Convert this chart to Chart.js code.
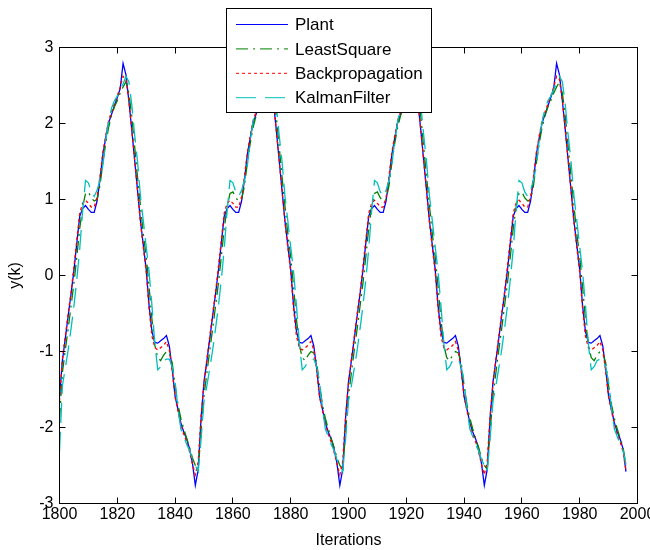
<!DOCTYPE html>
<html>
<head>
<meta charset="utf-8">
<title>Plant vs estimators</title>
<script src="https://cdn.jsdelivr.net/npm/chart.js@4.4.0/dist/chart.umd.min.js"></script>
<style>
    html, body { margin: 0; padding: 0; background: #fff; }
    canvas { display: block; }
</style>
</head>
<body>
<canvas id="plot" width="650" height="550"></canvas>
<script>
// x grid: one sample per iteration, 1800 .. 1996
const firstIteration = 1800;
const lastIteration = 1996;
const iterations = Array.from({ length: lastIteration - firstIteration + 1 }, (_, i) => firstIteration + i);

const xTicks = [1800, 1820, 1840, 1860, 1880, 1900, 1920, 1940, 1960, 1980, 2000];
const yTicks = [-3, -2, -1, 0, 1, 2, 3];

const seriesNames = ['Plant', 'LeastSquare', 'Backpropagation', 'KalmanFilter'];

// values, one row per period (1800-1847, 1848-1897, 1898-1947, 1948-1996)
const plant = [
    -1.60,-1.12,-0.83,-0.53,-0.24,0.07,0.43,0.78,0.88,0.92,0.87,0.83,0.83,0.98,1.26,1.59,1.81,2.01,2.12,2.23,2.34,2.46,2.79,2.64,2.30,1.92,1.52,1.12,0.72,0.40,0.08,-0.40,-0.74,-0.88,-0.89,-0.86,-0.83,-0.79,-0.93,-1.23,-1.59,-1.76,-1.94,-2.06,-2.15,-2.28,-2.47,-2.76,
    -2.55,-1.87,-1.40,-1.12,-0.83,-0.53,-0.24,0.07,0.43,0.78,0.88,0.92,0.87,0.83,0.83,0.98,1.26,1.59,1.81,2.01,2.12,2.23,2.34,2.46,2.79,2.64,2.30,1.92,1.52,1.12,0.72,0.40,0.08,-0.40,-0.74,-0.88,-0.89,-0.86,-0.83,-0.79,-0.93,-1.23,-1.59,-1.76,-1.94,-2.06,-2.15,-2.28,-2.47,-2.76,
    -2.55,-1.87,-1.40,-1.12,-0.83,-0.53,-0.24,0.07,0.43,0.78,0.88,0.92,0.87,0.83,0.83,0.98,1.26,1.59,1.81,2.01,2.12,2.23,2.34,2.46,2.79,2.64,2.30,1.92,1.52,1.12,0.72,0.40,0.08,-0.40,-0.74,-0.88,-0.89,-0.86,-0.83,-0.79,-0.93,-1.23,-1.59,-1.76,-1.94,-2.06,-2.15,-2.28,-2.47,-2.76,
    -2.55,-1.87,-1.40,-1.12,-0.83,-0.53,-0.24,0.07,0.43,0.78,0.88,0.92,0.87,0.83,0.83,0.98,1.26,1.59,1.81,2.01,2.12,2.23,2.34,2.46,2.79,2.64,2.30,1.92,1.52,1.12,0.72,0.40,0.08,-0.40,-0.74,-0.88,-0.89,-0.86,-0.83,-0.79,-0.93,-1.23,-1.59,-1.76,-1.94,-2.06,-2.15,-2.28,-2.58
];

const leastSquare = [
    -1.90,-1.28,-0.98,-0.70,-0.40,-0.10,0.25,0.62,0.90,1.08,1.10,1.02,0.98,1.00,1.18,1.48,1.74,1.95,2.10,2.22,2.30,2.40,2.48,2.55,2.40,2.10,1.70,1.30,0.92,0.55,0.25,-0.15,-0.58,-0.92,-1.08,-1.12,-1.05,-1.00,-1.02,-1.15,-1.45,-1.70,-1.88,-2.02,-2.14,-2.26,-2.40,-2.50,
    -2.55,-2.05,-1.58,-1.28,-0.98,-0.70,-0.40,-0.10,0.25,0.62,0.90,1.08,1.10,1.02,0.98,1.00,1.18,1.48,1.74,1.95,2.10,2.22,2.30,2.40,2.48,2.55,2.40,2.10,1.70,1.30,0.92,0.55,0.25,-0.15,-0.58,-0.92,-1.08,-1.12,-1.05,-1.00,-1.02,-1.15,-1.45,-1.70,-1.88,-2.02,-2.14,-2.26,-2.40,-2.50,
    -2.55,-2.05,-1.58,-1.28,-0.98,-0.70,-0.40,-0.10,0.25,0.62,0.90,1.08,1.10,1.02,0.98,1.00,1.18,1.48,1.74,1.95,2.10,2.22,2.30,2.40,2.48,2.55,2.40,2.10,1.70,1.30,0.92,0.55,0.25,-0.15,-0.58,-0.92,-1.08,-1.12,-1.05,-1.00,-1.02,-1.15,-1.45,-1.70,-1.88,-2.02,-2.14,-2.26,-2.40,-2.50,
    -2.55,-2.05,-1.58,-1.28,-0.98,-0.70,-0.40,-0.10,0.25,0.62,0.90,1.08,1.10,1.02,0.98,1.00,1.18,1.48,1.74,1.95,2.10,2.22,2.30,2.40,2.48,2.55,2.40,2.10,1.70,1.30,0.92,0.55,0.25,-0.15,-0.58,-0.92,-1.08,-1.12,-1.05,-1.00,-1.02,-1.15,-1.45,-1.70,-1.88,-2.02,-2.14,-2.26,-2.50
];

const backprop = [
    -1.65,-1.10,-0.80,-0.50,-0.22,0.12,0.47,0.82,0.95,0.99,0.95,0.90,0.90,1.03,1.30,1.62,1.84,2.04,2.15,2.26,2.36,2.48,2.62,2.58,2.30,1.92,1.52,1.12,0.70,0.37,0.05,-0.44,-0.80,-0.95,-0.98,-0.95,-0.92,-0.87,-0.98,-1.26,-1.60,-1.78,-1.96,-2.09,-2.19,-2.32,-2.48,-2.62,
    -2.45,-1.85,-1.42,-1.10,-0.80,-0.50,-0.22,0.12,0.47,0.82,0.95,0.99,0.95,0.90,0.90,1.03,1.30,1.62,1.84,2.04,2.15,2.26,2.36,2.48,2.62,2.58,2.30,1.92,1.52,1.12,0.70,0.37,0.05,-0.44,-0.80,-0.95,-0.98,-0.95,-0.92,-0.87,-0.98,-1.26,-1.60,-1.78,-1.96,-2.09,-2.19,-2.32,-2.48,-2.62,
    -2.45,-1.85,-1.42,-1.10,-0.80,-0.50,-0.22,0.12,0.47,0.82,0.95,0.99,0.95,0.90,0.90,1.03,1.30,1.62,1.84,2.04,2.15,2.26,2.36,2.48,2.62,2.58,2.30,1.92,1.52,1.12,0.70,0.37,0.05,-0.44,-0.80,-0.95,-0.98,-0.95,-0.92,-0.87,-0.98,-1.26,-1.60,-1.78,-1.96,-2.09,-2.19,-2.32,-2.48,-2.62,
    -2.45,-1.85,-1.42,-1.10,-0.80,-0.50,-0.22,0.12,0.47,0.82,0.95,0.99,0.95,0.90,0.90,1.03,1.30,1.62,1.84,2.04,2.15,2.26,2.36,2.48,2.62,2.58,2.30,1.92,1.52,1.12,0.70,0.37,0.05,-0.44,-0.80,-0.95,-0.98,-0.95,-0.92,-0.87,-0.98,-1.26,-1.60,-1.78,-1.96,-2.09,-2.19,-2.32,-2.56
];

const kalman = [
    -2.32,-1.45,-1.22,-0.98,-0.70,-0.40,-0.05,0.35,0.85,1.25,1.22,1.10,1.04,1.12,1.25,1.45,1.78,2.02,2.20,2.30,2.36,2.45,2.52,2.62,2.55,2.25,1.85,1.50,1.05,0.72,0.38,0.05,-0.40,-0.90,-1.24,-1.20,-1.12,-1.10,-1.10,-1.20,-1.40,-1.75,-2.02,-2.12,-2.22,-2.30,-2.42,-2.50,
    -2.58,-2.15,-1.65,-1.45,-1.22,-0.98,-0.70,-0.40,-0.05,0.35,0.85,1.25,1.22,1.10,1.04,1.12,1.25,1.45,1.78,2.02,2.20,2.30,2.36,2.45,2.52,2.62,2.55,2.25,1.85,1.50,1.05,0.72,0.38,0.05,-0.40,-0.90,-1.24,-1.20,-1.12,-1.10,-1.10,-1.20,-1.40,-1.75,-2.02,-2.12,-2.22,-2.30,-2.42,-2.50,
    -2.58,-2.15,-1.65,-1.45,-1.22,-0.98,-0.70,-0.40,-0.05,0.35,0.85,1.25,1.22,1.10,1.04,1.12,1.25,1.45,1.78,2.02,2.20,2.30,2.36,2.45,2.52,2.62,2.55,2.25,1.85,1.50,1.05,0.72,0.38,0.05,-0.40,-0.90,-1.24,-1.20,-1.12,-1.10,-1.10,-1.20,-1.40,-1.75,-2.02,-2.12,-2.22,-2.30,-2.42,-2.50,
    -2.58,-2.15,-1.65,-1.45,-1.22,-0.98,-0.70,-0.40,-0.05,0.35,0.85,1.25,1.22,1.10,1.04,1.12,1.25,1.45,1.78,2.02,2.20,2.30,2.36,2.45,2.52,2.62,2.55,2.25,1.85,1.50,1.05,0.72,0.38,0.05,-0.40,-0.90,-1.24,-1.20,-1.12,-1.10,-1.10,-1.20,-1.40,-1.75,-2.02,-2.12,-2.22,-2.30,-2.48
];

const FONT = '"Liberation Sans", Arial, sans-serif';

// MATLAB style box with inward ticks on all four sides, plus the boxed legend
const matlabFrame = {
    id: 'matlabFrame',
    afterDraw(chart) {
        const { ctx, chartArea: a, scales } = chart;
        const tick = 6;
        ctx.save();
        ctx.strokeStyle = '#000';
        ctx.lineWidth = 1;
        ctx.setLineDash([]);
        ctx.strokeRect(a.left, a.top, a.right - a.left, a.bottom - a.top);

        ctx.beginPath();
        xTicks.forEach(v => {
            const px = Math.floor(scales.x.getPixelForValue(v)) + 0.5;
            ctx.moveTo(px, a.bottom); ctx.lineTo(px, a.bottom - tick);
            ctx.moveTo(px, a.top); ctx.lineTo(px, a.top + tick);
        });
        yTicks.forEach(v => {
            const py = Math.floor(scales.y.getPixelForValue(v)) + 0.5;
            ctx.moveTo(a.left, py); ctx.lineTo(a.left + tick, py);
            ctx.moveTo(a.right, py); ctx.lineTo(a.right - tick, py);
        });
        ctx.stroke();

        // legend
        const box = { x: 226.5, y: 8.5, w: 205, h: 104 };
        ctx.fillStyle = '#fff';
        ctx.fillRect(box.x, box.y, box.w, box.h);
        ctx.strokeRect(box.x, box.y, box.w, box.h);
        ctx.font = '17px ' + FONT;
        ctx.textBaseline = 'middle';
        ctx.textAlign = 'left';
        chart.data.datasets.forEach((ds, i) => {
            const yy = 24.5 + i * 24.4;
            ctx.strokeStyle = ds.borderColor;
            ctx.lineWidth = 1;
            ctx.setLineDash(ds.borderDash || []);
            ctx.beginPath();
            ctx.moveTo(236, yy); ctx.lineTo(288, yy);
            ctx.stroke();
            ctx.fillStyle = '#000';
            ctx.fillText(ds.label, 295, yy + 1);
        });
        ctx.restore();
    }
};

const makeSeries = (label, values, color, dash, order) => ({
    label: label,
    data: values,
    borderColor: color,
    borderWidth: 1.3,
    borderDash: dash,
    pointRadius: 0,
    tension: 0,
    fill: false,
    order: order
});

new Chart(document.getElementById('plot'), {
    type: 'line',
    data: {
        labels: iterations,
        datasets: [
            makeSeries(seriesNames[0], plant, 'rgb(0, 0, 255)', [], 4),
            makeSeries(seriesNames[1], leastSquare, 'rgb(0, 128, 0)', [12, 5, 2, 5], 3),
            makeSeries(seriesNames[2], backprop, 'rgb(255, 0, 0)', [3, 3], 2),
            makeSeries(seriesNames[3], kalman, 'rgb(0, 191, 191)', [20, 9], 1)
        ]
    },
    options: {
        responsive: false,
        animation: false,
        devicePixelRatio: 1,
        layout: { padding: { top: 47.5, right: 12.5, left: 0, bottom: 0 } },
        plugins: {
            legend: { display: false },
            tooltip: { enabled: false }
        },
        scales: {
            x: {
                type: 'linear',
                min: 1800,
                max: 2000,
                grid: { display: false, drawTicks: false },
                border: { display: false },
                ticks: {
                    stepSize: 20,
                    padding: 1,
                    color: '#000',
                    font: { family: FONT, size: 16 },
                    maxRotation: 0,
                    autoSkip: false,
                    callback: v => String(v)
                },
                title: {
                    display: true,
                    text: 'Iterations',
                    color: '#000',
                    font: { family: FONT, size: 16 },
                    padding: { top: 0, bottom: 0 }
                },
                afterFit: s => { s.height = 46.5; s.paddingLeft = 0; s.paddingRight = 0; }
            },
            y: {
                min: -3,
                max: 3,
                grid: { display: false, drawTicks: false },
                border: { display: false },
                ticks: {
                    stepSize: 1,
                    padding: 6,
                    color: '#000',
                    font: { family: FONT, size: 16 },
                    callback: v => String(v)
                },
                title: {
                    display: true,
                    text: 'y(k)',
                    color: '#000',
                    font: { family: FONT, size: 16 },
                    padding: { top: 6, bottom: 0 }
                },
                afterFit: s => { s.width = 59.5; s.paddingTop = 0; s.paddingBottom = 0; }
            }
        }
    },
    plugins: [matlabFrame]
});
</script>
</body>
</html>
